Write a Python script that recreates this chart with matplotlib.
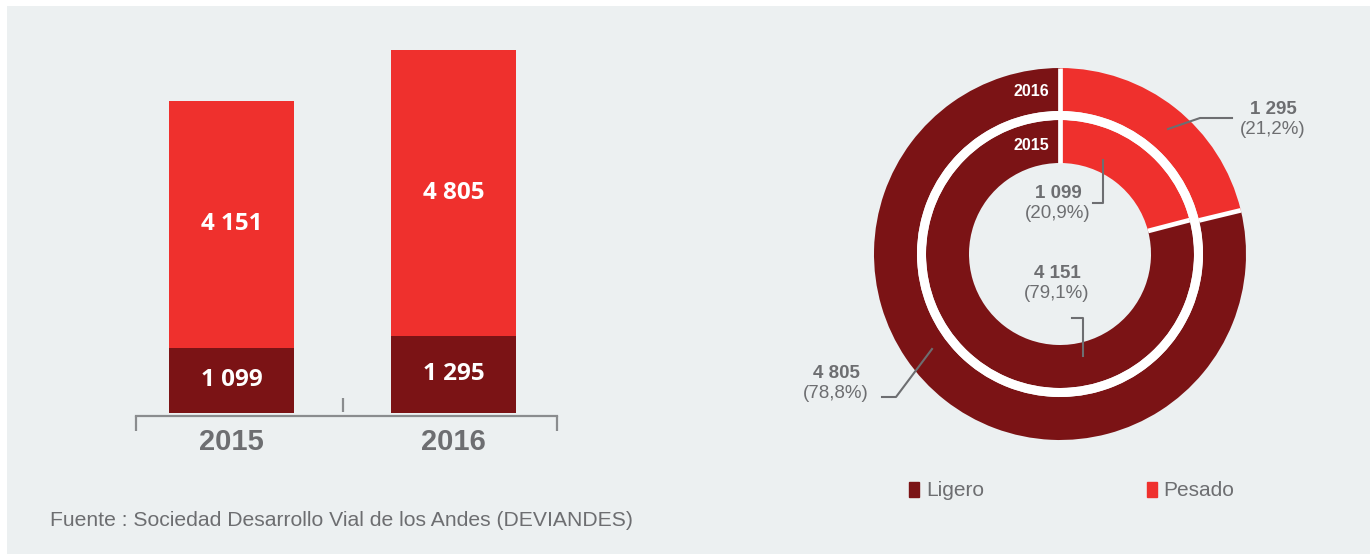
import matplotlib.pyplot as plt
import matplotlib.patches as mpatches
from matplotlib.patches import Wedge, Rectangle
import numpy as np

### data
years = ['2015', '2016']
ligero = [1099, 1295]
pesado = [4151, 4805]
series_names = ['Ligero', 'Pesado']
source = 'Fuente : Sociedad Desarrollo Vial de los Andes (DEVIANDES)'

### style
DARK = '#7B1315'
RED = '#EF302D'
GRAY = '#6D6E71'
AXGRAY = '#8A8C8E'
BG = '#ECF0F1'
W, H = 1370, 554

plt.rcParams['font.family'] = ['Liberation Sans', 'DejaVu Sans']


def fmt(v):
    return f'{v:,}'.replace(',', ' ')


def pct(v, tot):
    return '(' + f'{100 * v / tot:.1f}'.replace('.', ',') + '%)'


fig = plt.figure(figsize=(W / 100, H / 100), dpi=100, facecolor='white')
fig.patches.append(Rectangle((7 / W, 0), 1, 1 - 6 / H, transform=fig.transFigure,
                             facecolor=BG, edgecolor='none', zorder=-10))

### stacked bars
px = 0.0595  # pixels per unit
y0 = -3 / px
ytop = (413 - 40) / px
ax = fig.add_axes([136 / W, (H - 416) / H, (557 - 136) / W, 376 / H])
ax.set_facecolor('none')
x = np.arange(len(years))
ax.bar(x, ligero, width=0.563, color=DARK)
ax.bar(x, pesado, width=0.563, bottom=ligero, color=RED)
ax.set_xlim(-0.43, 1.466)
ax.set_ylim(y0, ytop)
for s in ['top', 'left', 'right']:
    ax.spines[s].set_visible(False)
ax.spines['bottom'].set_color(AXGRAY)
ax.spines['bottom'].set_linewidth(1.6)
ax.set_xticks([])
ax.set_yticks([])

# bracket ends and the middle tick
for xe in ax.get_xlim():
    ax.plot([xe, xe], [y0, -15 / px + y0], color=AXGRAY, lw=1.6, clip_on=False,
            solid_capstyle='butt')
ax.plot([0.5, 0.5], [1 / px, 15 / px], color=AXGRAY, lw=1.6, solid_capstyle='butt')

for i in range(len(years)):
    ax.text(i, ligero[i] / 2, fmt(ligero[i]), ha='center', va='center', color='white',
            fontsize=17.5, fontweight='bold', family=['Open Sans', 'DejaVu Sans'])
    ax.text(i, ligero[i] + pesado[i] / 2, fmt(pesado[i]), ha='center', va='center',
            color='white', fontsize=17.5, fontweight='bold',
            family=['Open Sans', 'DejaVu Sans'])
    ax.text(i, -29 / px, years[i], ha='center', va='center', color=GRAY,
            fontsize=21, fontweight='bold', clip_on=False)

### double donut (small share in red, from the top clockwise)
R = 186
ax2 = fig.add_axes([(1060 - R) / W, (H - 254 - R) / H, 2 * R / W, 2 * R / H])
ring_w = 43 / R
r_in_outer = 134 / R
ax2.pie([ligero[1], pesado[1]], radius=1, colors=[RED, DARK], startangle=90,
        counterclock=False, wedgeprops=dict(width=ring_w, edgecolor='none'))
ax2.pie([ligero[0], pesado[0]], radius=r_in_outer, colors=[RED, DARK],
        startangle=90, counterclock=False, wedgeprops=dict(width=ring_w, edgecolor='none'))
ax2.add_patch(Wedge((0, 0), 143 / R, 0, 360, width=9 / R, facecolor='white',
                    edgecolor='none'))
ax2.set_xlim(-1, 1)
ax2.set_ylim(-1, 1)
ax2.axis('off')


def sep(theta_deg, r0, r1):
    t = np.deg2rad(theta_deg)
    ax2.plot([r0 * np.cos(t), r1 * np.cos(t)], [r0 * np.sin(t), r1 * np.sin(t)],
             color='white', lw=3.4, solid_capstyle='butt', zorder=5)


r_hole = r_in_outer - ring_w
sep(90, r_hole, 1.0)
tot15 = ligero[0] + pesado[0]
tot16 = ligero[1] + pesado[1]
sep(90 - 360 * ligero[1] / tot16, 143 / R, 1.0)
sep(90 - 360 * ligero[0] / tot15, r_hole, r_in_outer)

# ring labels
ax2.text(-11 / R, (254 - 91) / R, years[1], ha='right', va='center', color='white',
         fontsize=11.5, fontweight='bold', zorder=6)
ax2.text(-11 / R, (254 - 146) / R, years[0], ha='right', va='center', color='white',
         fontsize=11.5, fontweight='bold', zorder=6)


def P(px_, py_):
    return (px_ - 1060) / R, (254 - py_) / R


def leader(pts):
    xy = np.array([P(*p) for p in pts])
    ax2.plot(xy[:, 0], xy[:, 1], color=GRAY, lw=1.5, clip_on=False, zorder=6)


def label(cx, cy, val, tot):
    x1, y1 = P(cx, cy)
    x2, y2 = P(cx, cy + 20)
    ax2.text(x1, y1, fmt(val), ha='center', va='center', color=GRAY, fontsize=13.5,
             fontweight='bold', clip_on=False, zorder=6)
    ax2.text(x2, y2, pct(val, tot), ha='center', va='center', color=GRAY,
             fontsize=13.5, clip_on=False, zorder=6)


label(1273, 109, ligero[1], tot16)
leader([(1168, 129), (1200, 118), (1232, 118)])
label(1058, 193, ligero[0], tot15)
leader([(1103, 160), (1103, 203), (1093, 203)])
label(1057, 274, pesado[0], tot15)
leader([(1072, 318), (1083, 318), (1083, 356)])
label(836, 373, pesado[1], tot16)
leader([(882, 397), (896, 397), (932, 349)])

### legend
handles = [mpatches.Patch(color=DARK), mpatches.Patch(color=RED)]
fig.legend(handles, series_names, loc='center left',
           bbox_to_anchor=(909 / W, 1 - 491 / H), ncol=2, frameon=False,
           fontsize=15, labelcolor=GRAY, handlelength=0.48, handleheight=0.72,
           handletextpad=0.34, columnspacing=7.8, borderpad=0, borderaxespad=0)

fig.text(50 / W, 1 - 520 / H, source, ha='left', va='center', color=GRAY, fontsize=15.2)

fig.savefig('out.png', dpi=100, facecolor=fig.get_facecolor())
